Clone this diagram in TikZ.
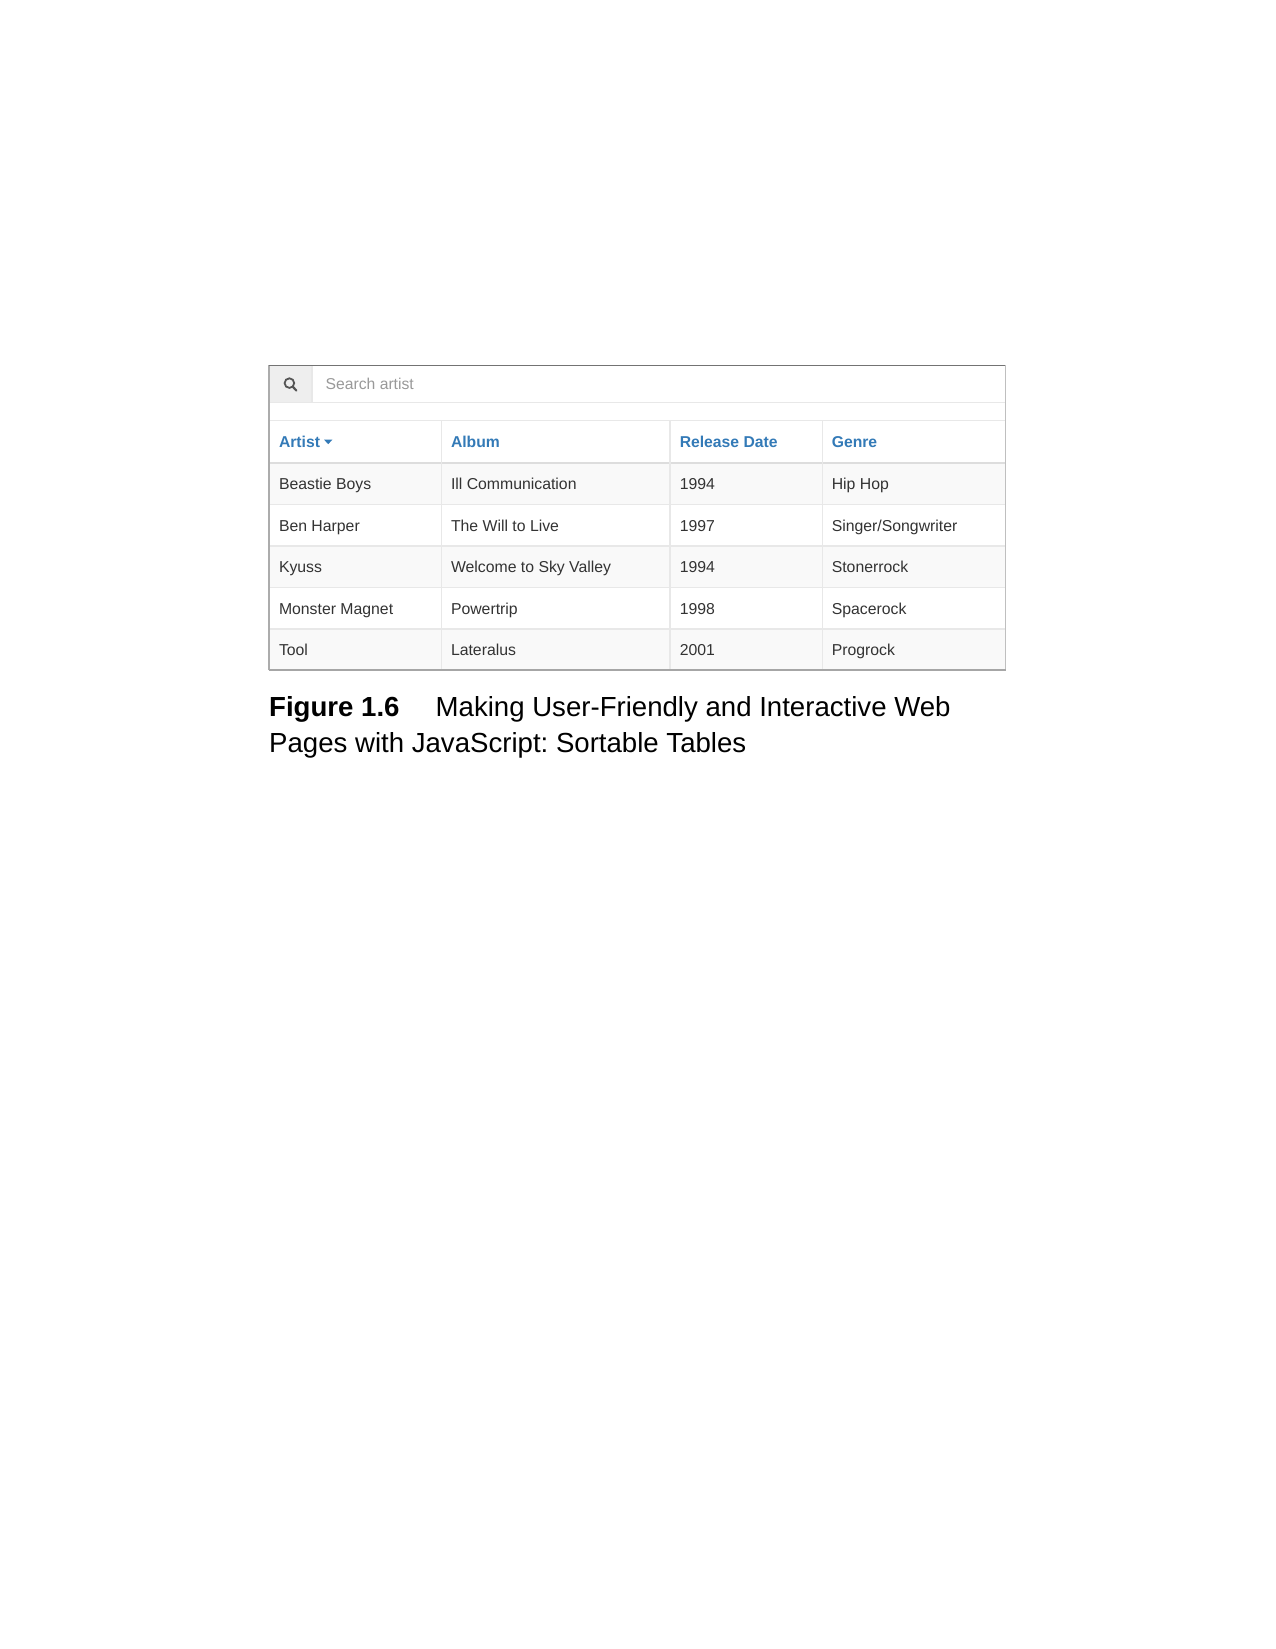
\documentclass[tikz,border=0pt]{standalone}
\usepackage{fontspec}
\setmainfont{Liberation Sans}
\usepackage{tikz}
\usetikzlibrary{positioning}

\definecolor{gridgray}{HTML}{E8E8E8}
\definecolor{headgray}{HTML}{DDDDDD}
\definecolor{stripe}{HTML}{F9F9F9}
\definecolor{addon}{HTML}{EEEEEE}
\definecolor{linkblue}{HTML}{337AB7}
\definecolor{celltext}{HTML}{333333}
\definecolor{hinttext}{HTML}{999999}
\definecolor{icongray}{HTML}{555555}

\begin{document}
\frenchspacing
\begin{tikzpicture}[
    x=1pt, y=-1pt,
    cell/.style={anchor=base west, inner sep=0pt, text=celltext, font=\fontsize{15.8}{18}\selectfont},
    headcell/.style={anchor=base west, inner sep=0pt, text=linkblue, font=\fontsize{15.7}{18}\selectfont\bfseries},
    hint/.style={anchor=base west, inner sep=0pt, text=hinttext, font=\fontsize{15.7}{18}\selectfont},
    caption/.style={anchor=base west, inner sep=0pt, text=black, font=\fontsize{27.6}{36}\selectfont},
    grid/.style={gridgray, line width=1.1pt}
]

    % Page
    \useasboundingbox (0, 0) rectangle (1275, 1649);
    \fill[white] (0, 0) rectangle (1275, 1649);

    % Striped rows and search addon
    \fill[addon] (269, 365) rectangle (312, 402);
    \fill[stripe] (269, 462) rectangle (1006, 504);
    \fill[stripe] (269, 546) rectangle (1006, 587);
    \fill[stripe] (269, 629) rectangle (1006, 670);

    % Horizontal rules
    \draw[grid] (269, 402.5) -- (1006, 402.5);
    \draw[grid] (269, 420.5) -- (1006, 420.5);
    \draw[headgray, line width=2pt] (269, 462.5) -- (1006, 462.5);
    \draw[grid] (269, 504.5) -- (1006, 504.5);
    \draw[grid] (269, 546) -- (1006, 546);
    \draw[grid] (269, 587.5) -- (1006, 587.5);
    \draw[grid] (269, 629) -- (1006, 629);

    % Vertical rules
    \draw[grid] (312, 365) -- (312, 402);
    \draw[grid] (441.5, 420.5) -- (441.5, 670);
    \draw[grid] (670, 420.5) -- (670, 670);
    \draw[grid] (822.5, 420.5) -- (822.5, 670);

    % Outer frame
    \draw[gray!65, line width=1.2pt] (269, 670) -- (269, 365.3);
    \draw[black!55, line width=1.2pt] (269, 365.3) -- (1005.7, 365.3);
    \draw[gray!50, line width=1.4pt] (1005.7, 365.3) -- (1005.7, 670);
    \draw[gray!70, line width=1.3pt] (1005.7, 670) -- (269, 670);

    % Search box
    \draw[icongray, line width=1.8pt] (289.4, 383.1) circle (4.8);
    \draw[icongray, line width=2.2pt, line cap=round] (293, 386.9) -- (296.3, 390.5);
    \node[hint] (searchhint) at (325.5, 389.8) {Search artist};

    % Table head
    \node[headcell] (headartist) at (278.8, 447.5) {Artist};
    \fill[linkblue] (324, 439.6) -- (332.4, 439.6) -- (328.2, 444.2) -- cycle;
    \node[headcell] (headalbum) at (450.8, 447.5) {Album};
    \node[headcell] (headdate) at (679.6, 447.5) {Release Date};
    \node[headcell] (headgenre) at (831.6, 447.5) {Genre};

    % Row 1
    \node[cell] (artista) at (278.8, 489.3) {Beastie Boys};
    \node[cell] (albuma) at (450.8, 489.3) {Ill Communication};
    \node[cell] (datea) at (679.6, 489.3) {1994};
    \node[cell] (genrea) at (831.6, 489.3) {Hip Hop};

    % Row 2
    \node[cell] (artistb) at (278.8, 531) {Ben Harper};
    \node[cell] (albumb) at (450.8, 531) {The Will to Live};
    \node[cell] (dateb) at (679.6, 531) {1997};
    \node[cell] (genreb) at (831.6, 531) {Singer/Songwriter};

    % Row 3
    \node[cell] (artistc) at (278.8, 572) {Kyuss};
    \node[cell] (albumc) at (450.8, 572) {Welcome to Sky Valley};
    \node[cell] (datec) at (679.6, 572) {1994};
    \node[cell] (genrec) at (831.6, 572) {Stonerrock};

    % Row 4
    \node[cell] (artistd) at (278.8, 614) {Monster Magnet};
    \node[cell] (albumd) at (450.8, 614) {Powertrip};
    \node[cell] (dated) at (679.6, 614) {1998};
    \node[cell] (genred) at (831.6, 614) {Spacerock};

    % Row 5
    \node[cell] (artiste) at (278.8, 655.3) {Tool};
    \node[cell] (albume) at (450.8, 655.3) {Lateralus};
    \node[cell] (datee) at (679.6, 655.3) {2001};
    \node[cell] (genree) at (831.6, 655.3) {Progrock};

    % Caption
    \node[caption] (figlabel) at (269, 716) {\bfseries Figure 1.6};
    \node[caption] (captiona) at (435.5, 716) {Making User-Friendly and Interactive Web};
    \node[caption] (captionb) at (269, 752.7) {Pages with JavaScript: Sortable Tables};

\end{tikzpicture}
\end{document}
